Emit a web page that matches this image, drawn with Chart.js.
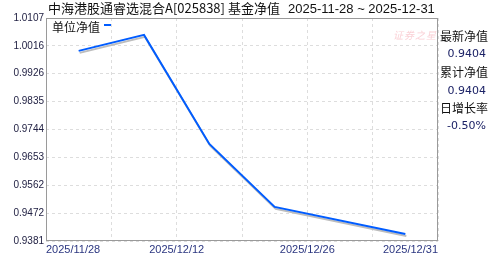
<!DOCTYPE html>
<html>
<head>
<meta charset="utf-8">
<script src="https://cdn.jsdelivr.net/npm/chart.js@4"></script>
<style>
  body { margin: 0; background: #fff; }
  #wrap { position: relative; width: 488px; height: 255px; font-family: "Noto Sans CJK SC", sans-serif; }
  #wrap div.t { position: absolute; white-space: nowrap; line-height: 1; }
  .num { font-family: "DejaVu Sans", sans-serif; font-size: 11px; color: #1c2266; }
</style>
</head>
<body>
<div id="wrap">
  <canvas id="chart"></canvas>
  <div class="t" style="left:48px;top:1px;font-size:13px;color:#111;">中海港股通睿选混合A[025838] 基金净值</div>
  <div class="t" style="left:288px;top:2px;font-size:13px;color:#111;font-family:'Liberation Sans',sans-serif;">2025-11-28 ~ 2025-12-31</div>
  <div class="t" style="left:52px;top:21px;font-size:12px;color:#111;">单位净值</div>
  <div class="t" style="left:104px;top:24px;width:7px;height:2px;background:#005cff;"></div>
  <div class="t" style="left:393px;top:30px;font-size:10px;color:#fad2d7;font-style:italic;letter-spacing:1px;">证券之星</div>
  <div class="t" style="left:440px;top:30px;font-size:12px;color:#111;">最新净值</div>
  <div class="t num" style="right:2px;top:48px;" id="latest"></div>
  <div class="t" style="left:440px;top:66px;font-size:12px;color:#111;">累计净值</div>
  <div class="t num" style="right:2px;top:85px;" id="accum"></div>
  <div class="t" style="left:440px;top:102px;font-size:12px;color:#111;">日增长率</div>
  <div class="t num" style="right:2px;top:120px;" id="growth"></div>
</div>
<script>
// positions are half-week slots along the x axis
const pointSlots = [1, 3, 5, 7, 11];
const navValues = [1.0000, 1.0052, 0.9697, 0.9492, 0.9404];
const xTickSlots = [0, 4, 8, 12];
const xTickLabels = ['2025/11/28', '2025/12/12', '2025/12/26', '2025/12/31'];
const yTickLabels = ['0.9381', '0.9472', '0.9562', '0.9653', '0.9744', '0.9835', '0.9926', '1.0016', '1.0107'];
const latestNav = '0.9404';
const accumNav = '0.9404';
const dailyGrowth = '-0.50%';

document.getElementById('latest').innerText = latestNav;
document.getElementById('accum').innerText = accumNav;
document.getElementById('growth').innerText = dailyGrowth;

//gray shadow under the line
const shadowPlugin = {
    id: 'shadow',
    beforeDatasetsDraw(chart) {
        const ctx = chart.ctx;
        ctx.save();
        ctx.shadowColor = '#bdbdbd';
        ctx.shadowOffsetX = 1;
        ctx.shadowOffsetY = 2;
        ctx.shadowBlur = 0;
    },
    afterDatasetsDraw(chart) {
        chart.ctx.restore();
    }
};

//box round the plot area
const boxPlugin = {
    id: 'box',
    afterDraw(chart) {
        const a = chart.chartArea;
        const ctx = chart.ctx;
        ctx.save();
        ctx.strokeStyle = '#9a9a9a';
        ctx.lineWidth = 1;
        ctx.strokeRect(a.left + 0.5, a.top + 0.5, a.right - a.left - 1, a.bottom - a.top - 1);
        ctx.restore();
    }
};

const config = {
    type: 'line',
    data: {
        datasets: [{
            label: '单位净值',
            data: pointSlots.map((s, i) => ({x: s, y: navValues[i]})),
            borderColor: '#005cff',
            borderWidth: 2,
            pointRadius: 0,
            tension: 0,
            fill: false
        }]
    },
    options: {
        responsive: true,
        maintainAspectRatio: false,
        animation: false,
        layout: {padding: {left: 0, right: 50, top: 18, bottom: 0}},
        plugins: {legend: {display: false}, tooltip: {enabled: false}},
        scales: {
            x: {
                type: 'linear',
                min: 0,
                max: 12,
                afterFit: (s) => { s.height = 14; },
                afterBuildTicks: (s) => { s.ticks = [0, 2, 4, 6, 8, 10, 12].map(v => ({value: v})); },
                grid: {color: '#dddddd', drawTicks: false},
                border: {display: false, dash: [3, 3]},
                ticks: {
                    autoSkip: false,
                    maxRotation: 0,
                    align: 'inner',
                    padding: 2,
                    color: '#2b3680',
                    font: {family: 'Liberation Sans', size: 11},
                    callback: (v) => {
                        const i = xTickSlots.indexOf(v);
                        return i >= 0 ? xTickLabels[i] : '';
                    }
                }
            },
            y: {
                min: 0.9381,
                max: 1.0107,
                afterFit: (s) => { s.width = 46; },
                afterBuildTicks: (s) => { s.ticks = yTickLabels.map(v => ({value: parseFloat(v)})); },
                grid: {color: '#dddddd', drawTicks: false},
                border: {display: false, dash: [3, 3]},
                ticks: {
                    padding: 2,
                    color: '#222244',
                    font: {family: 'Liberation Sans', size: 10},
                    callback: (v) => v.toFixed(4)
                }
            }
        }
    },
    plugins: [shadowPlugin, boxPlugin]
};

const myChart = new Chart(document.getElementById('chart'), config);
</script>
</body>
</html>
